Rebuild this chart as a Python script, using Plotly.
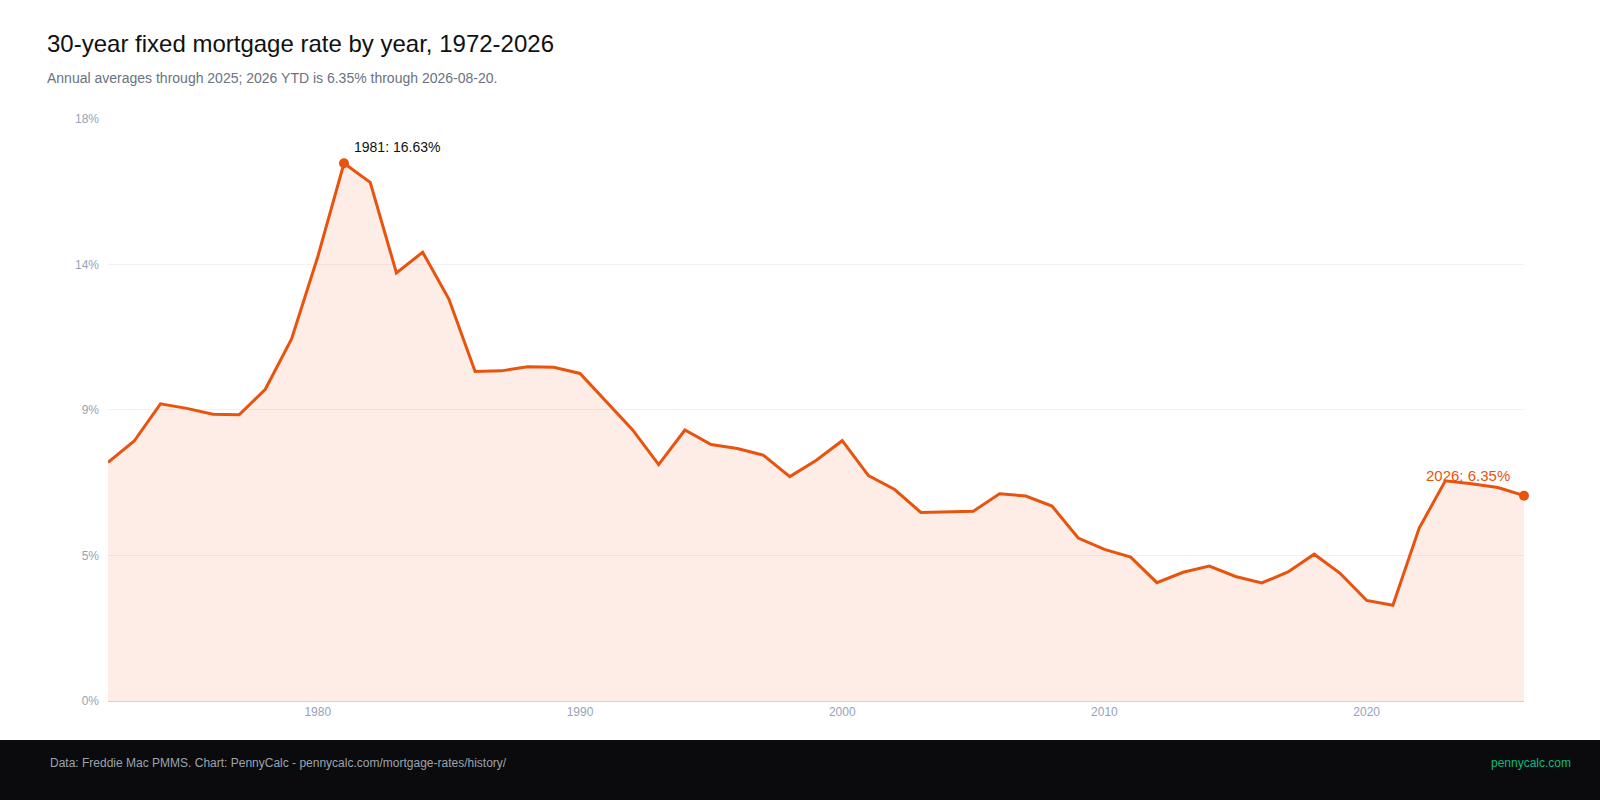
import plotly.graph_objects as go

years = list(range(1972, 2027))
rates = [7.38, 8.04, 9.19, 9.05, 8.87, 8.85, 9.64, 11.20, 13.74, 16.63,
         16.04, 13.24, 13.88, 12.43, 10.19, 10.21, 10.34, 10.32, 10.13, 9.25,
         8.39, 7.31, 8.38, 7.93, 7.81, 7.60, 6.94, 7.44, 8.05, 6.97,
         6.54, 5.83, 5.84, 5.87, 6.41, 6.34, 6.03, 5.04, 4.69, 4.45,
         3.66, 3.98, 4.17, 3.85, 3.65, 3.99, 4.54, 3.94, 3.11, 2.96,
         5.34, 6.81, 6.72, 6.60, 6.35]
y_ticks = [0, 4.5, 9, 13.5, 18]
y_labels = ["0%", "5%", "9%", "14%", "18%"]

ORANGE = "#e8530e"
W, H = 1600, 800
L, R, T, B = 108, 76, 118, 99
pw, ph = W - L - R, H - T - B

fig = go.Figure()
fig.add_trace(go.Scatter(
    x=years, y=rates, mode="lines", line=dict(color=ORANGE, width=3),
    fill="tozeroy", fillcolor="rgba(232,83,14,0.1)", hoverinfo="x+y",
))
peak = rates.index(max(rates))
fig.add_trace(go.Scatter(
    x=[years[peak], years[-1]], y=[rates[peak], rates[-1]], mode="markers",
    marker=dict(color=ORANGE, size=10), hoverinfo="skip", cliponaxis=False,
))
fig.add_annotation(x=years[peak], y=rates[peak], text=f"{years[peak]}: {rates[peak]:.2f}%",
                   showarrow=False, xanchor="left", yanchor="bottom", xshift=8, yshift=6,
                   font=dict(size=14, color="#111"))
fig.add_annotation(x=years[-1], y=rates[-1], text=f"{years[-1]}: {rates[-1]:.2f}%",
                   showarrow=False, xanchor="right", yanchor="bottom", xshift=-12, yshift=10,
                   font=dict(size=15, color=ORANGE))

# footer band
fig.add_shape(type="rect", xref="paper", yref="paper",
              x0=-L / pw, x1=1 + R / pw, y0=-B / ph, y1=-(740 - 701) / ph,
              fillcolor="#0b0b0d", line_width=0, layer="above")
fig.add_annotation(xref="paper", yref="paper", x=-(L - 48) / pw, y=-(763 - 701) / ph,
                   xanchor="left", yanchor="middle", showarrow=False,
                   text="Data: Freddie Mac PMMS. Chart: PennyCalc - pennycalc.com/mortgage-rates/history/",
                   font=dict(size=12, color="#9ca3af"))
fig.add_annotation(xref="paper", yref="paper", x=1 + (R - 27) / pw, y=-(763 - 701) / ph,
                   xanchor="right", yanchor="middle", showarrow=False,
                   text="pennycalc.com", font=dict(size=12, color="#10b981"))

fig.update_layout(
    width=W, height=H, showlegend=False,
    margin=dict(l=L, r=R, t=T, b=B),
    paper_bgcolor="white", plot_bgcolor="white",
    font=dict(family="Liberation Sans, Arial, sans-serif"),
    title=dict(text="30-year fixed mortgage rate by year, 1972-2026<br>"
                    "<span style='font-size:14px;color:#6b7280'>Annual averages through 2025; "
                    "2026 YTD is 6.35% through 2026-08-20.</span>",
               x=47 / W, xanchor="left", y=1 - 52 / H, yanchor="top",
               font=dict(size=24, color="#111")),
    xaxis=dict(range=[1972, 2026], tickvals=[1980, 1990, 2000, 2010, 2020],
               showgrid=False, zeroline=False, showline=True, linecolor="#d1d5db",
               ticks="", tickfont=dict(size=12, color="#94a3b8")),
    yaxis=dict(range=[0, 18.03], tickvals=y_ticks, ticktext=y_labels,
               gridcolor="#f1f1f1", zeroline=False, ticks="", ticklabelstandoff=8,
               tickfont=dict(size=12, color="#94a3b8")),
)
fig.write_html("out.html", config={"displayModeBar": False},
               post_script="document.body.style.margin='0';document.body.style.overflow='hidden';")
